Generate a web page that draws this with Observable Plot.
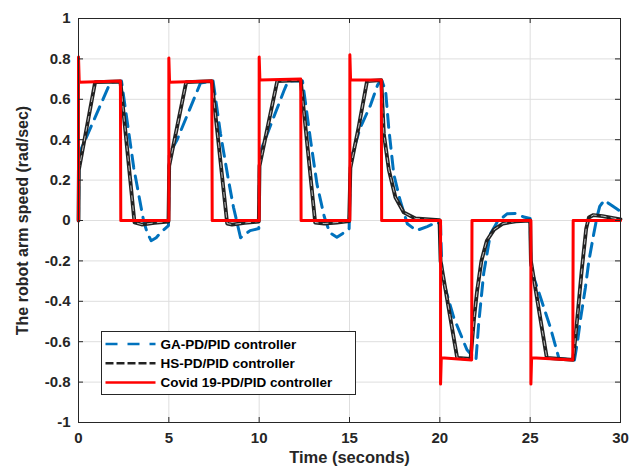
<!DOCTYPE html>
<html><head><meta charset="utf-8">
<script src="https://cdn.jsdelivr.net/npm/d3@7"></script>
<script src="https://cdn.jsdelivr.net/npm/@observablehq/plot@0.6"></script>
<style>body{margin:0;background:#fff;}</style>
</head><body><div id="chart"></div>
<script>
// ---- data ----
const seriesNames = ["GA-PD/PID controller", "HS-PD/PID controller", "Covid 19-PD/PID controller"];
const xTicks = [0, 5, 10, 15, 20, 25, 30];
const yTicks = [-1, -0.8, -0.6, -0.4, -0.2, 0, 0.2, 0.4, 0.6, 0.8, 1];
const xLabel = "Time (seconds)";
const yLabel = "The robot arm speed (rad/sec)";

const covidT = [0, 0, 0.04, 2.32, 2.34, 5.0, 5.0, 5.04, 7.38, 7.40, 10.0, 10.0, 10.04, 12.3, 12.32, 15.02, 15.02, 15.06, 16.76, 16.78, 20.04, 20.04, 20.08, 21.76, 21.78, 25.04, 25.04, 25.08, 27.36, 27.38, 30];
const covidY = [0, 0.81, 0.685, 0.69, 0, 0, 0.805, 0.685, 0.69, 0, 0, 0.81, 0.695, 0.70, 0, 0, 0.82, 0.695, 0.695, 0, 0, -0.81, -0.68, -0.69, 0, 0, -0.81, -0.68, -0.69, 0, 0];

const hsT = [0, 0.02, 0.92, 2.32, 3.1, 3.5, 4.2, 4.98,
  5.02, 5.96, 7.38, 8.23, 8.5, 9.2, 9.98,
  10.02, 11.0, 12.3, 13.1, 13.6, 14.3, 14.98,
  15.05, 15.5, 15.97, 16.76, 16.9, 17.18, 17.54, 18.0, 18.65, 19.98,
  20.04, 20.96, 21.7, 21.9, 22.06, 22.3, 22.6, 23.0, 23.5, 24.2, 25.0,
  25.04, 25.92, 27.38, 27.6, 27.85, 28.1, 28.25, 28.5, 29.0, 29.6, 30];
const hsY = [0, 0.25, 0.685, 0.688, -0.01, -0.02, -0.012, -0.005,
  0.27, 0.685, 0.69, -0.015, -0.02, -0.012, -0.005,
  0.27, 0.69, 0.695, -0.01, -0.015, -0.01, -0.003,
  0.26, 0.46, 0.69, 0.695, 0.43, 0.25, 0.115, 0.04, 0.01, 0.002,
  -0.2, -0.68, -0.685, -0.48, -0.35, -0.2, -0.1, -0.045, -0.015, -0.004, 0,
  -0.2, -0.68, -0.69, -0.49, -0.25, -0.04, 0.015, 0.027, 0.022, 0.012, 0.006];

const gaT = [0, 0.02, 0.28, 1.77, 2.38, 2.6, 3.06, 3.6, 3.8, 4.02, 4.3, 4.57, 4.98,
  5.02, 5.46, 6.75, 7.45, 7.86, 8.3, 8.58, 8.97, 9.5, 9.98,
  10.02, 10.8, 11.36, 11.6, 12.4, 12.84, 13.2, 13.6, 13.9, 14.3, 14.87, 14.98,
  15.05, 15.6, 16.16, 16.55, 16.7, 16.8, 17.0, 17.17, 17.45, 17.8, 18.2, 18.7, 19.3, 19.85,
  20.04, 20.12, 20.77, 21.5, 22.0, 22.15, 22.43, 22.8, 23.17, 23.72, 24.2, 24.65, 25.0,
  25.04, 25.57, 26.12, 26.6, 27.45, 27.62, 27.8, 28.06, 28.25, 28.52, 28.7, 28.85, 29.1, 29.5, 30];
const gaY = [0, 0.33, 0.38, 0.685, 0.69, 0.55, 0.26, 0, -0.06, -0.1, -0.085, -0.058, -0.025,
  0.33, 0.4, 0.68, 0.69, 0.43, 0.2, 0.065, -0.085, -0.05, -0.04,
  0.33, 0.51, 0.64, 0.69, 0.69, 0.4, 0.18, 0.02, -0.06, -0.083, -0.05, -0.04,
  0.3, 0.46, 0.57, 0.67, 0.69, 0.69, 0.64, 0.46, 0.23, 0.1, -0.016, -0.05, -0.03, -0.008,
  -0.02, -0.28, -0.48, -0.64, -0.69, -0.51, -0.26, -0.066, -0.008, 0.033, 0.035, 0.017, 0.01,
  -0.24, -0.38, -0.53, -0.685, -0.69, -0.6, -0.48, -0.33, -0.2, -0.066, 0.017, 0.07, 0.1, 0.075, 0.045];

// ---- build ----
const rows = (t, y) => t.map((d, i) => ({t: d, y: y[i]}));
const ga = rows(gaT, gaY), hs = rows(hsT, hsY), covid = rows(covidT, covidY);

const W = 631, H = 470, mL = 78, mR = 11, mT = 18, mB = 48;
const innerW = W - mL - mR, innerH = H - mT - mB;
const font = "'Liberation Sans', Arial, Helvetica, sans-serif";
const ink = "#262626";
const colors = ["#0072BD", "#222222", "#FF0000"];

const svg = Plot.plot({
  width: W, height: H,
  marginLeft: mL, marginRight: mR, marginTop: mT, marginBottom: mB,
  x: {domain: [0, 30]},
  y: {domain: [-1, 1]},
  style: {fontFamily: font, fontWeight: "bold", fontSize: "15px", color: ink, background: "#fff"},
  marks: [
    Plot.gridX(xTicks, {stroke: "#dedede", strokeOpacity: 1}),
    Plot.gridY(yTicks, {stroke: "#dedede", strokeOpacity: 1}),
    Plot.line(ga, {x: "t", y: "y", stroke: colors[0], strokeWidth: 3, strokeDasharray: "13,8"}),
    Plot.line(hs, {x: "t", y: "y", stroke: colors[1], strokeWidth: 3.8}),
    Plot.line(hs, {x: "t", y: "y", stroke: "#fff", strokeWidth: 0.7, strokeDasharray: "5,5"}),
    Plot.line(covid, {x: "t", y: "y", stroke: colors[2], strokeWidth: 3}),
    Plot.frame({stroke: ink, strokeWidth: 1}),
    // inward ticks on all four sides
    Plot.tickX(xTicks, {x: d => d, stroke: ink, insetTop: innerH - 5}),
    Plot.tickX(xTicks, {x: d => d, stroke: ink, insetBottom: innerH - 5}),
    Plot.tickY(yTicks, {y: d => d, stroke: ink, insetRight: innerW - 5}),
    Plot.tickY(yTicks, {y: d => d, stroke: ink, insetLeft: innerW - 5}),
    Plot.axisX(xTicks, {tickSize: 0, tickPadding: 10, label: null, tickFormat: d => String(d)}),
    Plot.axisY(yTicks, {tickSize: 0, tickPadding: 8, label: null, tickFormat: d => String(d)}),
    Plot.text([xLabel], {text: d => d, frameAnchor: "bottom", dy: 40, fontSize: 16.5, fontWeight: "bold", fill: ink}),
    Plot.text([yLabel], {text: d => d, frameAnchor: "left", textAnchor: "middle", dx: -56, rotate: -90, fontSize: 16, fontWeight: "bold", fill: ink})
  ]
});

// legend (inside the axes, lower left)
const lg = d3.select(svg).append("g").attr("font-family", font).attr("font-weight", "bold")
  .attr("font-size", 13.5).attr("text-anchor", "start");
const lx = 101.5, ly = 331.5, lw = 254, lh = 63;
lg.append("rect").attr("x", lx).attr("y", ly).attr("width", lw).attr("height", lh)
  .attr("fill", "#fff").attr("stroke", ink).attr("stroke-width", 1);
const dashes = ["12,10", "8,3", null];
seriesNames.forEach((name, i) => {
  const cy = ly + 12.5 + i * 19.3;
  const ln = lg.append("line").attr("x1", lx + 4).attr("x2", lx + 54).attr("y1", cy).attr("y2", cy)
    .attr("stroke", colors[i]).attr("stroke-width", 2.5);
  if (dashes[i]) ln.attr("stroke-dasharray", dashes[i]);
  lg.append("text").attr("x", lx + 59).attr("y", cy).attr("dy", "0.36em")
    .attr("text-anchor", "start").attr("fill", "#000").text(name);
});

document.getElementById("chart").appendChild(svg);
</script>
</body></html>
